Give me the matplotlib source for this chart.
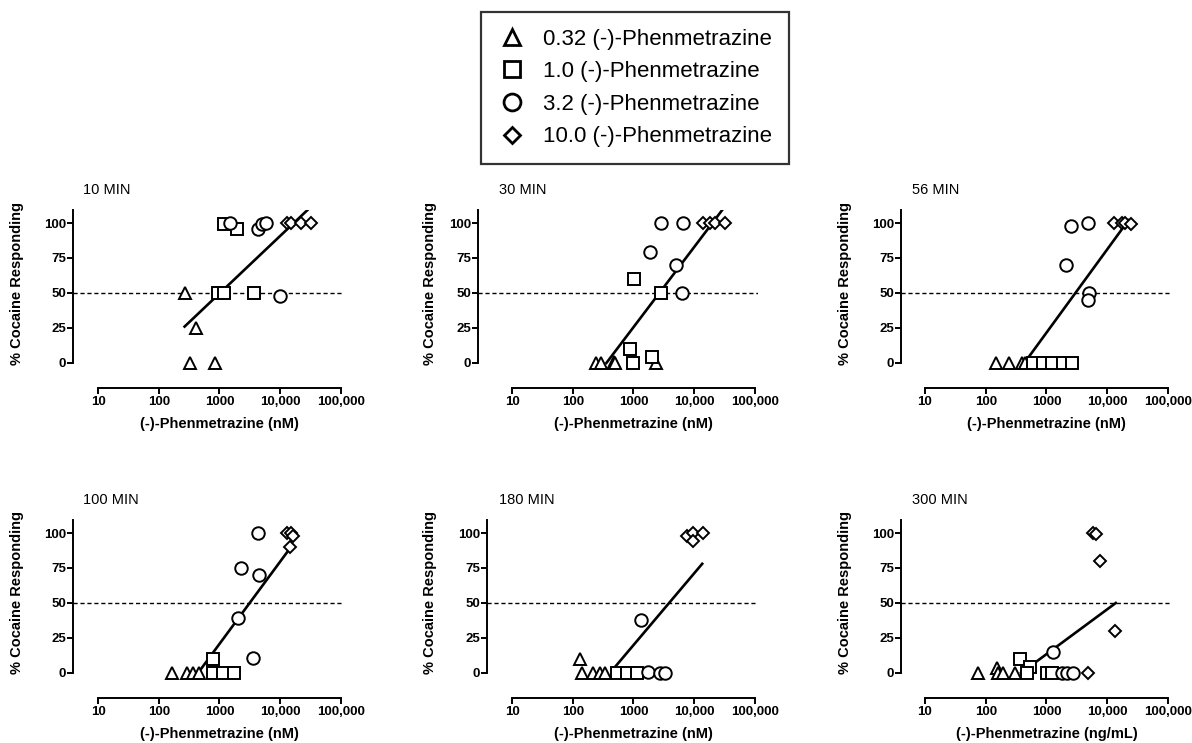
import matplotlib
matplotlib.use("Agg")
import matplotlib.pyplot as plt
from matplotlib.lines import Line2D

plt.rcParams['font.family'] = ['Liberation Sans', 'DejaVu Sans']

# Panel titles and x-axis labels
titles = ['10 MIN', '30 MIN', '56 MIN', '100 MIN', '180 MIN', '300 MIN']
xlabels = ['(-)-Phenmetrazine (nM)'] * 5 + ['(-)-Phenmetrazine (ng/mL)']
legend_labels = ['0.32 (-)-Phenmetrazine', '1.0 (-)-Phenmetrazine',
                 '3.2 (-)-Phenmetrazine', '10.0 (-)-Phenmetrazine']

xticks = [10, 100, 1000, 10000, 100000]
xticklabels = ['10', '100', '1000', '10,000', '100,000']
yticks = [0, 25, 50, 75, 100]

# 0.32 dose (triangles), one list per panel
tri_x = [[267, 405, 331, 833],
         [239, 293, 474, 492, 2333],
         [148, 243, 398, 445],
         [164, 290, 363, 456],
         [132, 142, 216, 282, 342],
         [75, 154, 160, 193, 305]]
tri_y = [[50, 25, 0, 0],
         [0, 0, 1, 0, 0],
         [0, 0, 0, 0],
         [0, 0, 0, 0],
         [10, 0, 0, 0, 0],
         [0, 3.5, 0, 0, 0]]

# 1.0 dose (squares)
sq_x = [[1173, 1941, 944, 1173, 3650],
        [1026, 891, 988, 2032, 2895],
        [604, 881, 1240, 1884, 2650],
        [777, 777, 1135, 1750],
        [540, 790, 1156],
        [368, 538, 480, 1020, 1250]]
sq_y = [[99, 96, 50, 50, 50],
        [60, 10, 0, 4, 50],
        [0, 0, 0, 0, 0],
        [10, 0, 0, 0],
        [0, 0, 0],
        [10, 4, 0, 0, 0]]

# 3.2 dose (circles)
circ_x = [[1469, 4303, 5070, 5903, 10030],
          [2895, 6590, 1857, 4990, 6430],
          [2551, 4800, 2085, 5050, 4800],
          [4335, 2306, 4445, 2030, 3550],
          [1330, 1758, 2780, 3363],
          [1290, 1810, 2190, 2755]]
circ_y = [[100, 96, 99, 100, 48],
          [100, 100, 79, 70, 50],
          [98, 100, 70, 50, 45],
          [100, 75, 70, 39.5, 11],
          [38, 1, 0, 0],
          [15, 0, 0, 0]]

# 10.0 dose (diamonds)
dia_x = [[12900, 15400, 22200, 32500],
         [14070, 18100, 21900, 32000],
         [13200, 17900, 19800, 24900],
         [13030, 15380, 16380, 14790],
         [7780, 9770, 9770, 13780],
         [5960, 6590, 7670, 13550, 4860]]
dia_y = [[100, 100, 100, 100],
         [100, 100, 100, 100],
         [100, 100, 100, 99],
         [100, 100, 98, 90],
         [98, 100, 94, 100],
         [100, 99, 80, 30, 0]]

# regression line end points
fit_x = [[267, 28600], [359, 29300], [434, 22500],
         [445, 15380], [470, 13600], [382, 13900]]
fit_y = [[26, 109.5], [0, 109.5], [0, 102],
         [0, 90.5], [3, 78], [0, 50]]

W, H = 1192, 743
fig = plt.figure(figsize=(W / 100, H / 100), dpi=100)

decade = 60.7
spine_px = [73, 478, 901, 73, 487, 901]
x10_px = [98, 512, 925, 98, 512, 925]
top_px = [210, 210, 210, 520, 520, 520]
ylab_px = [17, 430, 845]
title_px = [83, 499, 912]
ax_h = 178

groups = [(tri_x, tri_y, '^', 9), (sq_x, sq_y, 's', 8.5),
          (circ_x, circ_y, 'o', 9), (dia_x, dia_y, 'D', 6)]

for i in range(6):
    left = spine_px[i]
    right = x10_px[i] + 4 * decade + 3
    top = top_px[i]
    ax = fig.add_axes([left / W, 1 - (top + ax_h) / H, (right - left) / W, ax_h / H])
    ax.set_xscale('log')
    ax.set_xlim(10 ** (1 - (x10_px[i] - left) / decade), 10 ** (5 + 3 / decade))
    ax.set_ylim(-17.9, 109.3)

    ax.axhline(50, color='black', lw=1, ls=(0, (3, 2)), zorder=1)
    ax.plot(fit_x[i], fit_y[i], color='black', lw=1.9, zorder=2)
    for gx, gy, m, ms in groups:
        ax.plot(gx[i], gy[i], ls='none', marker=m, ms=ms, mfc='white',
                mec='black', mew=1.4, zorder=3, clip_on=False)

    for s in ['top', 'right']:
        ax.spines[s].set_visible(False)
    ax.spines['left'].set_bounds(0, 109.3)
    ax.spines['bottom'].set_bounds(10, 100000)
    for s in ['left', 'bottom']:
        ax.spines[s].set_linewidth(1.4)

    ax.set_xticks(xticks)
    ax.set_xticklabels(xticklabels)
    ax.xaxis.set_minor_locator(matplotlib.ticker.NullLocator())
    ax.set_yticks(yticks)
    ax.tick_params(length=4, width=1.4, labelsize=9.5, pad=2)
    ax.tick_params(axis='y', pad=1)
    for lab in ax.get_xticklabels() + ax.get_yticklabels():
        lab.set_fontweight('bold')

    col = i % 3
    row_off = 0 if i < 3 else 310
    fig.text(title_px[col] / W, 1 - (190 + row_off) / H, titles[i],
             fontsize=10.5, ha='left', va='center')
    fig.text(ylab_px[col] / W, 1 - (283 + row_off) / H, '% Cocaine Responding',
             fontsize=10.5, fontweight='bold', rotation=90, ha='center', va='center')
    fig.text((x10_px[i] + 2 * decade) / W, 1 - (424 + row_off) / H, xlabels[i],
             fontsize=10.5, fontweight='bold', ha='center', va='center')

handles = [Line2D([], [], ls='none', marker=m, ms=ms * 1.35, mfc='white',
                  mec='black', mew=2)
           for _, _, m, ms in groups]
leg = fig.legend(handles, legend_labels, loc='upper center',
                 bbox_to_anchor=(635 / W, 1 - 12 / H), fontsize=16,
                 frameon=True, fancybox=False, edgecolor='black',
                 handlelength=1.3, handletextpad=0.75, labelspacing=0.52,
                 borderpad=0.75, borderaxespad=0)
leg.get_frame().set_linewidth(1.6)

fig.savefig('out.png', dpi=100)
